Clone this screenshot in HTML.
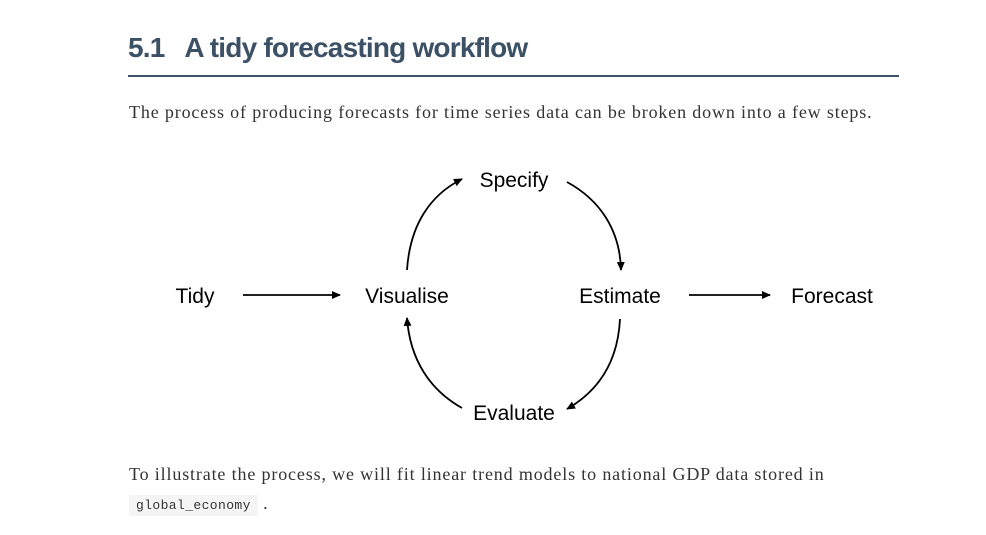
<!DOCTYPE html>
<html><head><meta charset="utf-8"><style>
body{margin:0;width:986px;height:535px;background:#fff;overflow:hidden;position:relative;font-family:"Liberation Serif",serif;}
h2{position:absolute;left:128px;top:32px;margin:0;font:bold 28px "Liberation Sans",sans-serif;color:#3c5066;letter-spacing:-0.8px;}
.rule{position:absolute;left:128px;top:75px;width:771px;height:2px;background:#3c5066;}
p{position:absolute;left:129px;margin:0;font-size:18px;letter-spacing:0.85px;color:#333;}
code{font:13px "Liberation Mono",monospace;letter-spacing:0.4px;background:#f5f5f5;padding:3px 7px;color:#333;}
svg{position:absolute;left:0;top:0;}
</style></head><body>
<h2>5.1&nbsp;&nbsp; A tidy forecasting workflow</h2>
<div class="rule"></div>
<p style="top:102px">The process of producing forecasts for time series data can be broken down into a few steps.</p>
<svg width="986" height="535">
<defs><marker id="ah" markerWidth="10" markerHeight="10" refX="8" refY="5" orient="auto" markerUnits="userSpaceOnUse"><path d="M0,1 L9,5 L0,9 Z" fill="#000"/></marker></defs>
<g font-family="Liberation Sans, sans-serif" font-size="21" fill="#000" text-anchor="middle">
<text x="195" y="303">Tidy</text>
<text x="407" y="303">Visualise</text>
<text x="620" y="303">Estimate</text>
<text x="832" y="303">Forecast</text>
<text x="514" y="187">Specify</text>
<text x="514" y="420">Evaluate</text>
</g>
<g stroke="#000" stroke-width="1.8" fill="none" marker-end="url(#ah)">
<line x1="243" y1="295" x2="340" y2="295"/>
<line x1="689" y1="295" x2="770" y2="295"/>
<path d="M407,270 C410,225 430,195 462,179"/>
<path d="M567,182 C600,200 620,230 621,270"/>
<path d="M620,319 C618,360 600,390 567,409"/>
<path d="M462,408 C430,390 410,360 407,318"/>
</g>
</svg>
<p style="top:464px">To illustrate the process, we will fit linear trend models to national GDP data stored in</p>
<p style="top:493px"><code>global_economy</code> .</p>
</body></html>
